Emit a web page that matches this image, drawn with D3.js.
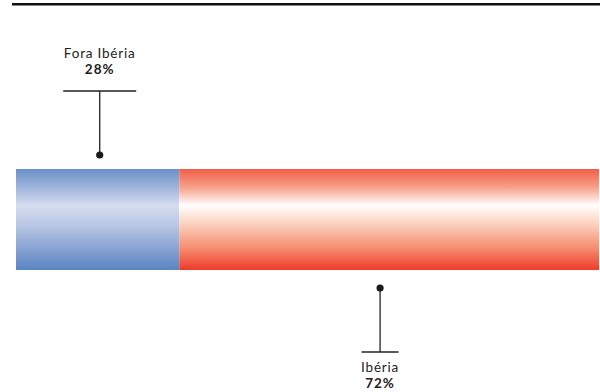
<!DOCTYPE html>
<html>
<head>
<meta charset="utf-8">
<script src="https://cdn.jsdelivr.net/npm/d3@7"></script>
<style>
  html, body { margin: 0; padding: 0; background: #fff; }
  text { font-family: Lato, "Open Sans", sans-serif; fill: #222; }
</style>
</head>
<body>
<svg id="chart" width="600" height="392"></svg>
<script>
// Share of the total, by region
const categories = ["Fora Ibéria", "Ibéria"];
const shares = [28, 72];
const shareLabels = ["28%", "72%"];

const svg = d3.select("#chart");
const W = 600, H = 392;

// Horizontal extent of the stacked bar
const x = d3.scaleLinear().domain([0, 100]).range([16, 599]);
const barTop = 169, barBottom = 270;

// Vertical "tube" gradients for each segment
const gradients = [
  { id: "gBlue", stops: [["0%", "#6a91c8"], ["18%", "#9fb4dc"], ["36%", "#d6ddef"], ["55%", "#bac8e6"], ["80%", "#86a1d2"], ["100%", "#5985c2"]] },
  { id: "gRed",  stops: [["0%", "#f35e47"], ["18%", "#f7a088"], ["36%", "#ffffff"], ["52%", "#fcd8c6"], ["78%", "#f58e70"], ["100%", "#ee3a2b"]] }
];
const defs = svg.append("defs");
gradients.forEach(g => {
  const lg = defs.append("linearGradient").attr("id", g.id)
    .attr("x1", 0).attr("y1", 0).attr("x2", 0).attr("y2", 1);
  g.stops.forEach(([o, c]) => lg.append("stop").attr("offset", o).attr("stop-color", c));
});

// Top rule
svg.append("rect").attr("x", 12).attr("y", 3).attr("width", W - 12).attr("height", 2.5).attr("fill", "#111");

// Cumulative segments
const segs = [];
let acc = 0;
shares.forEach((v, i) => { segs.push({ name: categories[i], v, x0: acc, x1: acc + v, label: shareLabels[i] }); acc += v; });

svg.selectAll("rect.seg").data(segs).join("rect")
  .attr("class", "seg")
  .attr("x", d => x(d.x0))
  .attr("y", barTop)
  .attr("width", d => x(d.x1) - x(d.x0))
  .attr("height", barBottom - barTop)
  .attr("fill", (d, i) => `url(#${gradients[i].id})`);

// Callouts: first above the bar, second below
const callouts = [
  { pos: 14.36, dotY: 155, barY: 91, textY1: 57.5, textY2: 74, half: 36.5 },
  { pos: 62.45, dotY: 288, barY: 352, textY1: 371.5, textY2: 388, half: 18.5 }
];
callouts.forEach((c, i) => {
  const cx = x(c.pos);
  const g = svg.append("g");
  g.append("line").attr("x1", cx).attr("x2", cx).attr("y1", c.barY).attr("y2", c.dotY)
    .attr("stroke", "#222").attr("stroke-width", 1.3);
  g.append("line").attr("x1", cx - c.half).attr("x2", cx + c.half).attr("y1", c.barY).attr("y2", c.barY)
    .attr("stroke", "#222").attr("stroke-width", 1.3);
  g.append("circle").attr("cx", cx).attr("cy", c.dotY).attr("r", 3.6).attr("fill", "#1a1a1a");
  g.append("text").attr("x", cx).attr("y", c.textY1).attr("text-anchor", "middle")
    .attr("font-size", 13.5).attr("letter-spacing", 0.8).text(segs[i].name);
  g.append("text").attr("x", cx).attr("y", c.textY2).attr("text-anchor", "middle")
    .attr("font-size", 13.5).attr("font-weight", "bold").attr("letter-spacing", 1).text(segs[i].label);
});
</script>
</body>
</html>
